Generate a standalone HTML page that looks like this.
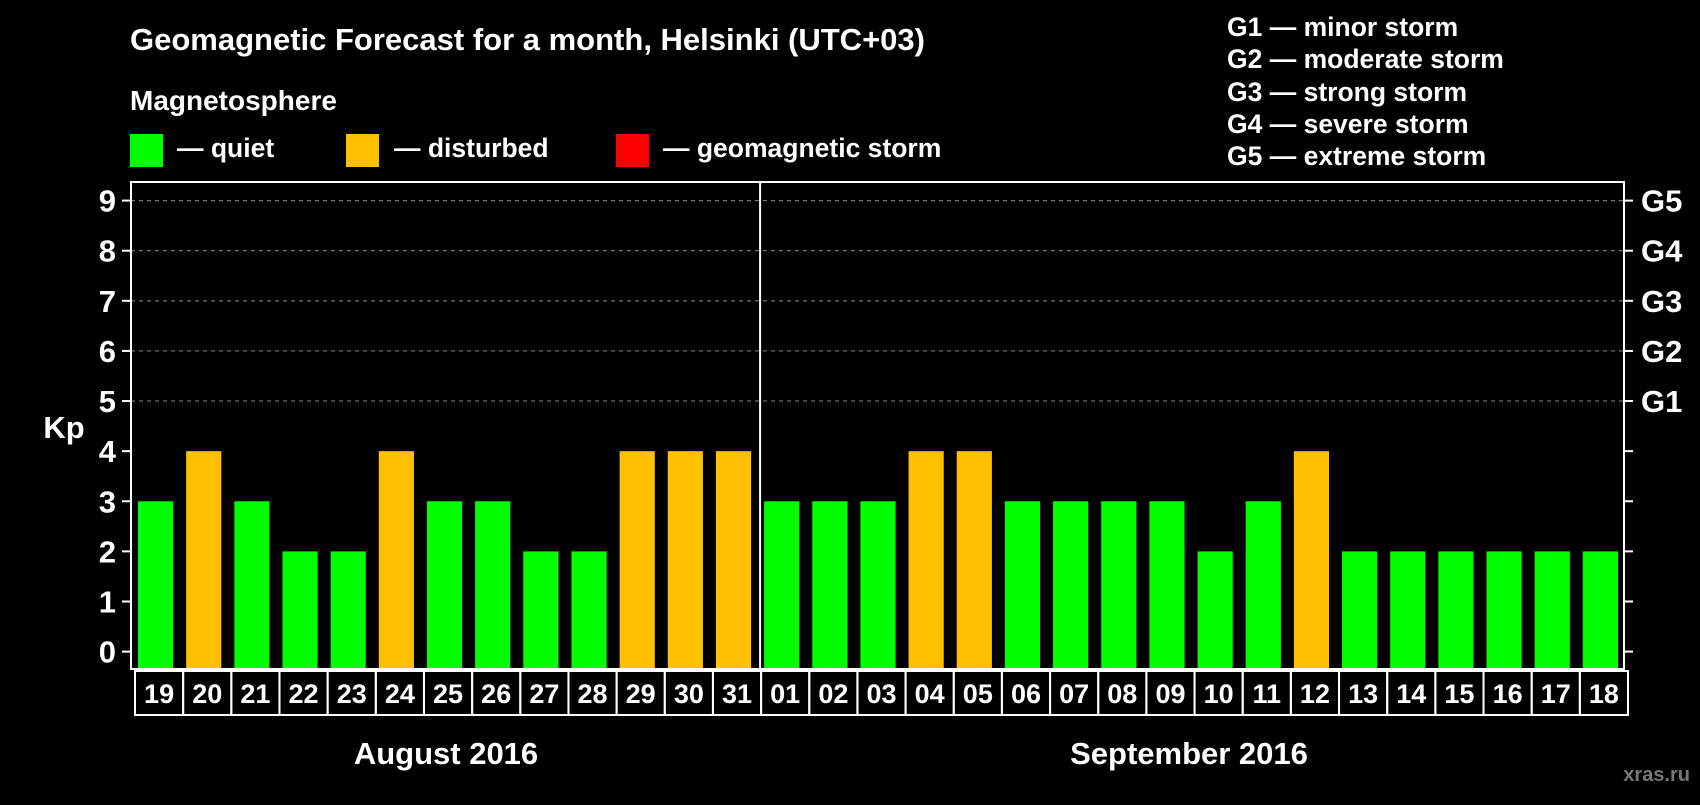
<!DOCTYPE html>
<html><head><meta charset="utf-8"><style>
body{margin:0;background:#000;width:1700px;height:800px;overflow:hidden;font-family:"Liberation Sans",sans-serif}
svg text{font-family:"Liberation Sans",sans-serif;font-weight:bold;fill:#fff}
</style></head><body>
<svg id="c" width="1700" height="800" xmlns="http://www.w3.org/2000/svg">
<text x="130" y="50" font-size="31">Geomagnetic Forecast for a month, Helsinki (UTC+03)</text>
<text x="130" y="110" font-size="28">Magnetosphere</text>
<rect x="130" y="134" width="33" height="33" fill="#00ff00"/>
<text x="177" y="157" font-size="26.5">— quiet</text>
<rect x="346" y="134" width="33" height="33" fill="#ffc000"/>
<text x="394" y="157" font-size="26.5">— disturbed</text>
<rect x="616" y="134" width="33" height="33" fill="#ff0000"/>
<text x="663" y="157" font-size="26.5">— geomagnetic storm</text>
<g font-size="26.5">
<text x="1227" y="36">G1 — minor storm</text>
<text x="1227" y="68">G2 — moderate storm</text>
<text x="1227" y="101">G3 — strong storm</text>
<text x="1227" y="133">G4 — severe storm</text>
<text x="1227" y="165">G5 — extreme storm</text>
</g>
<text x="64" y="438" font-size="31" text-anchor="middle">Kp</text>
<text x="446" y="764" font-size="31" text-anchor="middle">August 2016</text>
<text x="1189" y="764" font-size="31" text-anchor="middle">September 2016</text>
<text x="1690" y="781" font-size="20" text-anchor="end" style="fill:#777">xras.ru</text>
<g id="plot"></g>
</svg>
<script>
const days=["19","20","21","22","23","24","25","26","27","28","29","30","31","01","02","03","04","05","06","07","08","09","10","11","12","13","14","15","16","17","18"];
const kp=[3,4,3,2,2,4,3,3,2,2,4,4,4,3,3,3,4,4,3,3,3,3,2,3,4,2,2,2,2,2,2];
const yTicks=[0,1,2,3,4,5,6,7,8,9];
const gLabels=["G1","G2","G3","G4","G5"];
const gLevels=[5,6,7,8,9];
const L=131,R=1624,T=182,B=669,Y0=651.6,Y9=200.6;
const n=days.length,slot=(R-L)/n;
const y=v=>Y0-(Y0-Y9)*v/9;
const x=i=>L+i*slot;
const g=document.getElementById('plot');
const NS="http://www.w3.org/2000/svg";
function mk(t,a){const e=document.createElementNS(NS,t);for(const k in a)e.setAttribute(k,a[k]);g.appendChild(e);return e;}
gLevels.forEach((v,i)=>{
 const l=mk('line',{x1:L,x2:R,y1:y(v),y2:y(v),stroke:'#888','stroke-dasharray':'4,4','stroke-width':1});
 
 
 const t=mk('text',{x:R+17,y:y(v)+11,'font-size':31});t.textContent=gLabels[i];
 
 
});
yTicks.forEach(v=>{
 const a=mk('line',{x1:L-9,x2:L,y1:y(v),y2:y(v),stroke:'#fff','stroke-width':2});
 
 
 const b=mk('line',{x1:R,x2:R+9,y1:y(v),y2:y(v),stroke:'#fff','stroke-width':2});
 
 
 const t=mk('text',{x:L-15,y:y(v)+11,'font-size':31,'text-anchor':'end'});t.textContent=v;
 
 
});
kp.forEach((v,i)=>{
 const r=mk('rect',{x:x(i)+7,y:y(v),width:slot-13,height:B-y(v),fill:v>=5?'#ff0000':v>=4?'#ffc000':'#00ff00'});
 
 
 const c=mk('rect',{x:x(i)+4,y:B+2,width:slot,height:44,fill:'none',stroke:'#fff','stroke-width':2});
 
 
 const t=mk('text',{x:x(i)+4+slot/2,y:B+34,'font-size':27,'text-anchor':'middle'});t.textContent=days[i];
 
 
});
const box=mk('rect',{x:L,y:T,width:R-L,height:B-T,fill:'none',stroke:'#fff','stroke-width':2});


const sep=mk('line',{x1:x(13)+3,x2:x(13)+3,y1:T,y2:B,stroke:'#fff','stroke-width':2});


</script>
</body></html>
